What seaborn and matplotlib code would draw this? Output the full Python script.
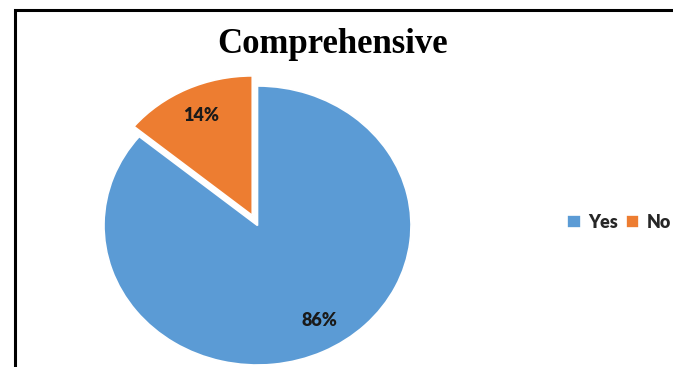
import matplotlib
matplotlib.use("Agg")
import matplotlib.pyplot as plt
from matplotlib.patches import Rectangle
import numpy as np
import seaborn as sns

# data
labels = ["Yes", "No"]
shares = [86, 14]
colors = ["#5B9BD5", "#ED7D31"]

sns.set_theme(style="white")
plt.rcParams["font.family"] = ["Lato", "DejaVu Sans"]

W, H = 673, 367
fig = plt.figure(figsize=(W / 100, H / 100), dpi=100)

# pie centre / radii in pixels (Excel stretched it a little sideways)
cx, cy, rx, ry = 257.5, 141.5, 153.5, 139.5
lim = 1.1
ax = fig.add_axes([(cx - lim * rx) / W, (cy - lim * ry) / H,
                   2 * lim * rx / W, 2 * lim * ry / H])

wedges, texts, autotexts = ax.pie(
    shares, colors=colors, startangle=90, counterclock=False,
    explode=[0, 0.08], autopct="%d%%", pctdistance=0.79,
    wedgeprops=dict(edgecolor="white", linewidth=1.2),
    textprops=dict(fontsize=13, fontweight="heavy", color="#1a1a1a"))
# Excel's "best fit" puts the big label a bit off the mid-angle
ang = np.deg2rad(-59.5)
autotexts[0].set_position((0.79 * np.cos(ang), 0.79 * np.sin(ang)))
ax.set_aspect("auto")
ax.set_xlim(-lim, lim)
ax.set_ylim(-lim, lim)
ax.axis("off")

fig.text(333 / W, (H - 53) / H, "Comprehensive", ha="center", va="baseline",
         fontsize=25, fontweight="bold", family="Liberation Serif", color="black")

fig.legend(wedges, labels, loc="center left", bbox_to_anchor=(567 / W, (H - 222) / H),
           ncol=2, frameon=False, handlelength=0.75, handleheight=0.75,
           handletextpad=0.4, columnspacing=0.45, borderpad=0, borderaxespad=0,
           prop=dict(size=13, weight="heavy"))

# chart border (left and top visible, rest cut off)
fig.add_artist(Rectangle((14.5 / W, -0.1), 1.2, (H - 10.5) / H + 0.1,
                         transform=fig.transFigure, fill=False,
                         edgecolor="black", linewidth=2.2, clip_on=False))

fig.savefig("out.png", dpi=100)
